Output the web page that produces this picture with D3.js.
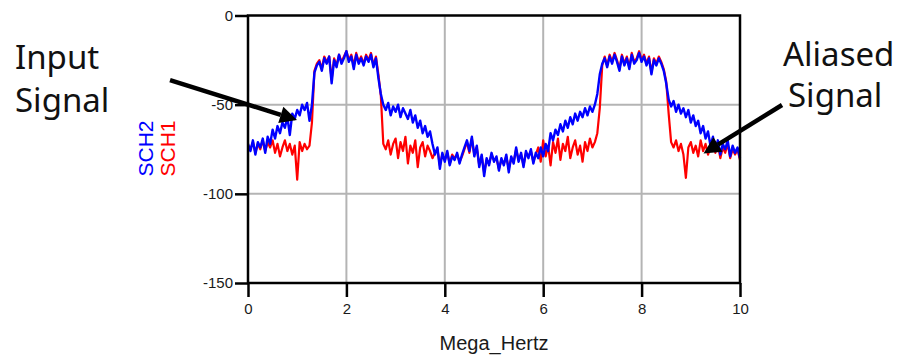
<!DOCTYPE html>
<html>
<head>
<meta charset="utf-8">
<script src="https://cdn.jsdelivr.net/npm/d3@7"></script>
<style>
  html, body { margin: 0; padding: 0; background: #fff; }
  svg { display: block; }
</style>
</head>
<body>
<svg id="chart" width="909" height="361"></svg>
<script>
// Spectrum samples, one every FREQ_STEP MHz from 0 to 10 MHz (dB)
const FREQ_STEP = 0.05;

const sch2 = [
  -72, -76, -70, -78, -71, -74, -69, -77, -68, -72,
  -64, -69, -62, -66, -60, -63, -57, -67, -55, -58,
  -53, -56, -50, -53, -49, -59, -50, -32, -28, -26,
  -31, -24, -27, -23, -38, -25, -29, -22, -27, -24,
  -20, -26, -23, -30, -22, -27, -24, -28, -23, -26,
  -22, -29, -24, -35, -44, -50, -53, -49, -56, -51,
  -54, -50, -57, -52, -55, -58, -53, -60, -56, -63,
  -59, -66, -62, -68, -65, -72, -78, -74, -86, -77,
  -82, -76, -84, -79, -81, -77, -83, -78, -74, -70,
  -76, -68, -79, -73, -85, -78, -90, -80, -84, -77,
  -82, -79, -87, -80, -84, -78, -88, -79, -83, -74,
  -82, -77, -85, -76, -80, -75, -83, -77, -80, -74,
  -79, -72, -76, -66, -70, -64, -67, -61, -65, -59,
  -63, -57, -61, -55, -59, -54, -57, -52, -56, -51,
  -54, -50, -44, -33, -27, -24, -29, -23, -27, -22,
  -26, -31, -23, -28, -24, -30, -22, -27, -25, -21,
  -26, -23, -28, -24, -33, -25, -28, -24, -27, -31,
  -38, -47, -51, -48, -54, -50, -55, -52, -57, -53,
  -60, -56, -62, -59, -66, -62, -69, -65, -73, -68,
  -76, -70, -78, -72, -75, -70, -79, -73, -77, -74,
  -80
];

const sch1 = [
  -73, -75, -71, -77, -72, -75, -70, -76, -71, -74,
  -70, -77, -72, -79, -74, -70, -76, -72, -78, -73,
  -92, -71, -76, -72, -75, -73, -60, -31, -27, -25,
  -30, -23, -26, -23, -36, -24, -28, -22, -26, -23,
  -20, -25, -22, -28, -21, -26, -23, -27, -22, -25,
  -21, -28, -23, -33, -45, -72, -75, -70, -78, -72,
  -69, -80, -71, -76, -68, -83, -73, -77, -70, -85,
  -74, -71, -79, -73, -76, -80, -77, -75, -84, -78,
  -81, -77, -83, -78, -80, -78, -82, -79, -75, -71,
  -77, -69, -78, -74, -84, -79, -88, -81, -83, -78,
  -81, -80, -86, -81, -83, -79, -86, -80, -82, -75,
  -81, -78, -84, -77, -79, -76, -82, -78, -74, -82,
  -70, -79, -73, -84, -71, -77, -69, -81, -72, -76,
  -68, -80, -74, -70, -78, -73, -82, -71, -76, -69,
  -74, -71, -66, -52, -28, -23, -28, -22, -26, -21,
  -25, -30, -22, -27, -23, -29, -21, -26, -24, -20,
  -25, -22, -27, -23, -32, -24, -27, -23, -26, -30,
  -37, -55, -71, -74, -70, -76, -72, -78, -91, -74,
  -71, -77, -73, -79, -70, -76, -72, -78, -74, -70,
  -77, -72, -80, -74, -77, -72, -80, -75, -78, -75,
  -81
];

const xTicks = [0, 2, 4, 6, 8, 10];
const yTicks = [0, -50, -100, -150];
const xGrid = [2, 4, 6, 8];
const yGrid = [-50, -100];

// Annotation arrows in data units: [startMHz, startDb, tipMHz, tipDb]
const inputArrow = [-1.585, -36.2, 0.996, -58.6];
const aliasArrow = [10.854, -50.2, 9.258, -77.4];

const svg = d3.select("#chart");
const plot = { left: 248, right: 740, top: 15.5, bottom: 283 };

const x = d3.scaleLinear().domain([0, 10]).range([plot.left, plot.right]);
const y = d3.scaleLinear().domain([-150, 0]).range([plot.bottom, plot.top]);

const FONT = "'Liberation Sans', Arial, sans-serif";

// Grid
svg.append("g").selectAll("line.vg").data(xGrid).join("line")
  .attr("x1", d => x(d)).attr("x2", d => x(d))
  .attr("y1", plot.top).attr("y2", plot.bottom)
  .attr("stroke", "#b4b4b4").attr("stroke-width", 2);
svg.append("g").selectAll("line.hg").data(yGrid).join("line")
  .attr("x1", plot.left).attr("x2", plot.right)
  .attr("y1", d => y(d)).attr("y2", d => y(d))
  .attr("stroke", "#b4b4b4").attr("stroke-width", 2);

// Traces
const toPoints = arr => arr.map((v, i) => ({ f: i * FREQ_STEP, v }));
const line = d3.line().x(d => x(d.f)).y(d => y(d.v));

svg.append("path").datum(toPoints(sch1))
  .attr("d", line).attr("fill", "none")
  .attr("stroke", "#ff0000").attr("stroke-width", 2.2)
  .attr("stroke-linejoin", "round");
svg.append("path").datum(toPoints(sch2))
  .attr("d", line).attr("fill", "none")
  .attr("stroke", "#0000ff").attr("stroke-width", 2.4)
  .attr("stroke-linejoin", "round");

// Frame
svg.append("rect")
  .attr("x", plot.left).attr("y", plot.top)
  .attr("width", plot.right - plot.left).attr("height", plot.bottom - plot.top)
  .attr("fill", "none").attr("stroke", "#000").attr("stroke-width", 2.5);

// Axes
const fmt = d => String(d);
const xAxis = d3.axisBottom(x).tickValues(xTicks).tickFormat(fmt).tickSize(14).tickPadding(6);
const yAxis = d3.axisLeft(y).tickValues(yTicks).tickFormat(fmt).tickSize(13).tickPadding(2);

const gx = svg.append("g").attr("transform", `translate(0,${plot.bottom})`).call(xAxis);
const gy = svg.append("g").attr("transform", `translate(${plot.left},0)`).call(yAxis);
[gx, gy].forEach(g => {
  g.select(".domain").remove();
  g.selectAll(".tick line").attr("stroke", "#000").attr("stroke-width", 2.5);
  g.selectAll(".tick text").attr("fill", "#1a1a1a")
    .style("font-family", FONT).style("font-size", "15px");
});

// Axis title
svg.append("text")
  .attr("x", 494).attr("y", 350)
  .attr("text-anchor", "middle")
  .style("font-family", FONT).style("font-size", "20px")
  .attr("fill", "#1a1a1a")
  .text("Mega_Hertz");

// Rotated series labels
[["SCH2", "#0000ff", 153], ["SCH1", "#ff0000", 175]].forEach(([label, color, bx]) => {
  svg.append("text")
    .attr("transform", `translate(${bx},148.5) rotate(-90)`)
    .attr("text-anchor", "middle")
    .style("font-family", FONT).style("font-size", "21px")
    .attr("fill", color)
    .text(label);
});

// Annotation text, two lines each
const NOTE_FONT = "'Noto Sans', 'Open Sans', sans-serif";
const notes = [
  [["Input", 15, 68.5], ["Signal", 15, 111.5]],
  [["Aliased", 783, 65.7], ["Signal", 788, 107.3]]
];
notes.forEach(rows => {
  const t = svg.append("text")
    .style("font-family", NOTE_FONT).style("font-size", "33px")
    .attr("fill", "#111");
  rows.forEach(([s, tx, ty]) => {
    t.append("tspan").attr("x", tx).attr("y", ty).text(s);
  });
});

// Arrows
function arrow(a) {
  const x0 = x(a[0]), y0 = y(a[1]), x1 = x(a[2]), y1 = y(a[3]);
  const ang = Math.atan2(y1 - y0, x1 - x0);
  const headLen = 17, headHalf = 8.5;
  const bx = x1 - headLen * Math.cos(ang), by = y1 - headLen * Math.sin(ang);
  svg.append("line")
    .attr("x1", x0).attr("y1", y0).attr("x2", bx).attr("y2", by)
    .attr("stroke", "#000").attr("stroke-width", 4.5);
  const px = -Math.sin(ang), py = Math.cos(ang);
  svg.append("polygon")
    .attr("points", [
      [x1, y1],
      [bx + headHalf * px, by + headHalf * py],
      [bx - headHalf * px, by - headHalf * py]
    ].map(p => p.join(",")).join(" "))
    .attr("fill", "#000");
}
arrow(inputArrow);
arrow(aliasArrow);
</script>
</body>
</html>
